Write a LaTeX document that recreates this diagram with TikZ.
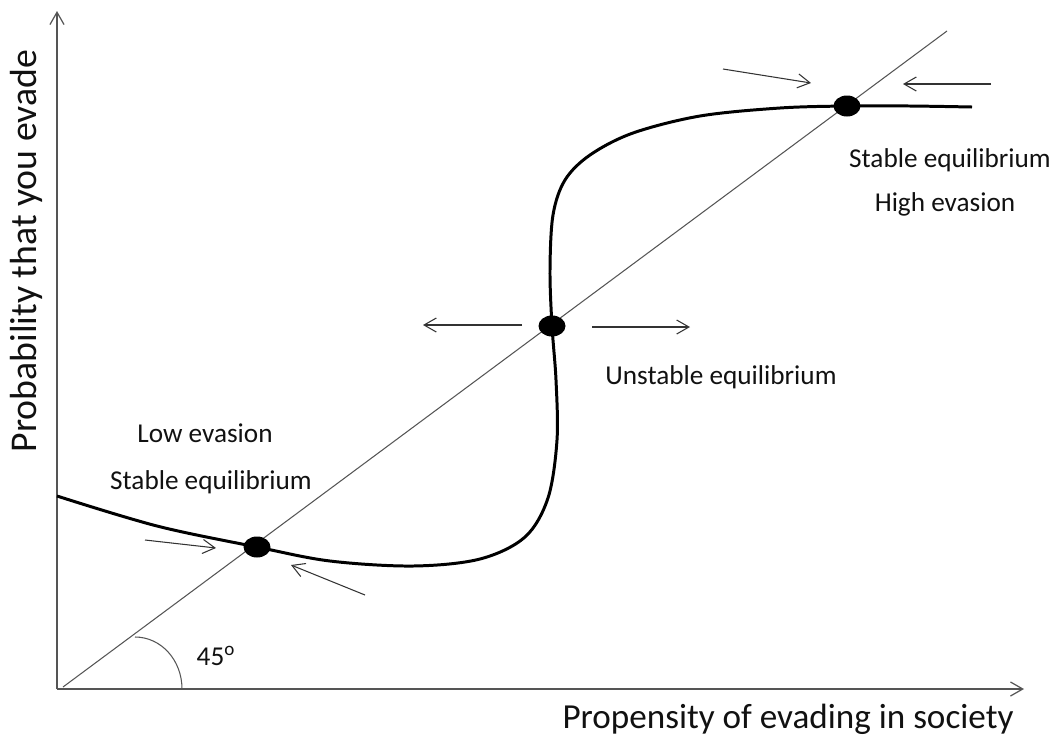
\documentclass[tikz,border=0pt]{standalone}
\usepackage{fontspec}
\setmainfont{Carlito}
\usetikzlibrary{arrows.meta,positioning,calc,shapes.geometric}
\definecolor{AxisGray}{HTML}{555555}
\definecolor{ArrowGray}{HTML}{333333}
\definecolor{InkBlack}{HTML}{111111}

\begin{document}
\begin{tikzpicture}[
    x=0.02cm,y=-0.02cm,
    axis/.style={draw=AxisGray,line width=0.7pt,-{Straight Barb[length=7pt,width=8pt]}},
    diag/.style={draw=AxisGray,line width=0.6pt},
    curve/.style={draw=black,line width=1.7pt},
    eqdot/.style={ellipse,fill=black,inner sep=0pt,minimum width=0.54cm,minimum height=0.42cm},
    push/.style={-{Straight Barb[length=7pt,width=8pt]},draw=ArrowGray,line width=0.6pt},
    lbl/.style={font=\fontsize{15.5}{18}\selectfont,text=InkBlack,anchor=base,inner sep=0pt},
    axlbl/.style={font=\fontsize{20}{24}\selectfont,text=InkBlack,anchor=base,inner sep=0pt}
]
\useasboundingbox (0,0) rectangle (1055,735);
% axes
\coordinate (O) at (57,689);
\coordinate (xend) at (1024,689);
\coordinate (yend) at (57,11);
\draw[axis] (O) -- (xend);
\draw[axis] (O) -- (yend);
\node[axlbl] (xlab) at (788,728) {Propensity of evading in society};
\node[axlbl,font=\fontsize{21.5}{26}\selectfont,rotate=90] (ylab) at (36,251) {Probability that you evade};
% 45 degree line
\coordinate (dstart) at (63,687);
\coordinate (dend) at (947,31);
\draw[diag] (dstart) -- (dend);
\draw[diag] (135,637) .. controls (161,637) and (182,660) .. (182,689);
\node[lbl] (ang) at (216,665) {45\textsuperscript{o}};
% equilibria
\node[eqdot] (low) at (257,547) {};
\node[eqdot] (mid) at (552,326) {};
\node[eqdot] (high) at (847,106) {};
% response curve
\draw[curve] plot[smooth,tension=0.55] coordinates {(57,496) (157,526) (low.center) (330,561)
    (413,566) (480,559) (525,537) (548,498) (557,440) (556,380) (mid.center) (550,270)
    (553,215) (565,180) (590,155) (633,133) (700,116) (780,108) (high.center) (910,106) (972,107)};
% arrows towards / away from equilibria
\coordinate (loA) at (145,540);
\coordinate (loAt) at (216,548);
\coordinate (loB) at (365,595);
\coordinate (loBt) at (291,565);
\coordinate (miA) at (522,325);
\coordinate (miAt) at (423,325);
\coordinate (miB) at (592,327);
\coordinate (miBt) at (690,327);
\coordinate (hiA) at (723,69);
\coordinate (hiAt) at (811,83);
\coordinate (hiB) at (991,84);
\coordinate (hiBt) at (903,84);
\draw[push] (loA) -- (loAt);
\draw[push] (loB) -- (loBt);
\draw[push] (miA) -- (miAt);
\draw[push] (miB) -- (miBt);
\draw[push] (hiA) -- (hiAt);
\draw[push] (hiB) -- (hiBt);
% labels
\node[lbl] (lowtxt) at (205,442) {Low evasion};
\node[lbl] (lowstab) at (211,489) {Stable equilibrium};
\node[lbl] (midtxt) at (721,384) {Unstable equilibrium};
\node[lbl] (highstab) at (950,167) {Stable equilibrium};
\node[lbl] (hightxt) at (945,211) {High evasion};
\end{tikzpicture}
\end{document}
